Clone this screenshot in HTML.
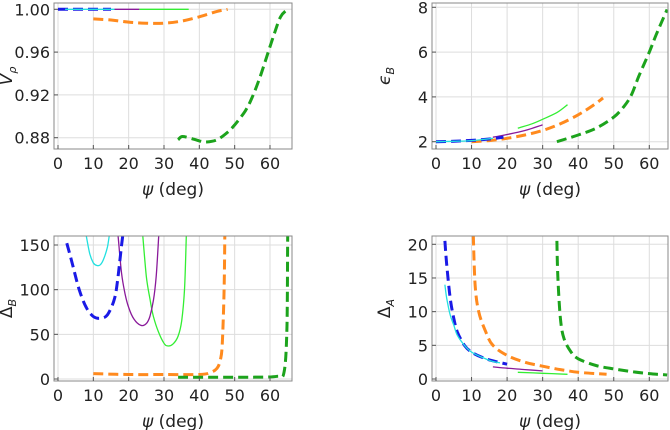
<!DOCTYPE html>
<html><head><meta charset="utf-8"><style>
body{margin:0;background:#fff}
svg{display:block;font-family:"DejaVu Sans","Liberation Sans",sans-serif}
</style></head><body>
<svg id="c" width="670" height="430"></svg>
<script>
// ---- data ----
const vpBlue=[[0,1.0],[15,1.0]];
const vpCyan=[[2,1.0],[16,1.0]];
const vpPurple=[[16,1.0],[23,1.0]];
const vpGreen=[[23,1.0],[37,1.0]];
const vpOrange=[[10,0.991],[15,0.990],[20,0.988],[25,0.987],[30,0.987],[35,0.989],[40,0.993],[45,0.998],[48,1.0]];
const vpGreenD=[[34,0.878],[35,0.881],[37,0.880],[40,0.877],[42,0.876],[45,0.878],[48,0.885],[50,0.892],[53,0.905],[55,0.918],[57,0.935],[59,0.955],[61,0.975],[63,0.993],[65,1.0]];

const ebBlue=[[0,2.0],[5,2.02],[10,2.06],[15,2.12],[19,2.2]];
const ebCyan=[[0,2.0],[5,2.02],[10,2.05],[16,2.15]];
const ebPurple=[[16,2.2],[20,2.32],[25,2.5],[30,2.75]];
const ebGreen=[[23,2.6],[27,2.8],[30,3.0],[34,3.3],[37,3.65]];
const ebOrange=[[10,2.0],[15,2.05],[20,2.15],[25,2.3],[30,2.5],[35,2.8],[40,3.2],[44,3.6],[47,3.95]];
const ebGreenD=[[34,2.0],[40,2.3],[45,2.6],[50,3.1],[53,3.6],[55,4.1],[57,4.9],[60,6.0],[62,6.8],[65,7.9]];

const dbBlue=[[2.5,152],[4,130],[6,100],[8,80],[10,70],[12,68],[14,72],[16,90],[17,115],[18,150],[18.3,160]];
const dbCyan=[[8,160],[9,140],[10,130],[11,127],[12,128],[13,135],[14,148],[14.5,160]];
const dbPurple=[[17,160],[18,118],[19,95],[20,80],[21.5,67],[23.5,60],[25,62],[26,70],[27,88],[27.8,115],[28.5,160]];
const dbGreen=[[24,160],[25,115],[26,90],[27,70],[28.5,52],[30,40],[31,37],[32.5,39],[34,48],[35,65],[35.8,100],[36.3,160]];
const dbOrange=[[10,6],[20,5],[30,5],[40,5],[43,7],[45,12],[46,22],[46.5,40],[47,100],[47.2,160]];
const dbGreenD=[[34,2],[45,2],[55,2],[62,3],[64,8],[64.8,60],[65,160]];

const daBlue=[[2.5,20.5],[3,17],[4,12],[5,9],[6,7],[8,5],[10,4],[13,3.2],[16,2.7],[20,2.2]];
const daCyan=[[2.5,14],[3,12],[4,9.5],[5,8],[6,6.5],[8,5],[10,4],[13,3.2],[16,2.6],[18,2.4]];
const daPurple=[[16,1.8],[20,1.6],[25,1.4],[30,1.2]];
const daGreen=[[23,1.0],[30,0.85],[37,0.7]];
const daOrange=[[10.5,21.3],[11,14],[12,10],[14,7],[16,5],[20,3.5],[25,2.5],[30,1.9],[35,1.4],[40,1.0],[45,0.8],[48,0.7]];
const daGreenD=[[34,20.5],[34.3,15],[35,9],[36,6],[38,4],[40,3],[45,2],[50,1.5],[55,1.1],[60,0.8],[65,0.6]];

const xTicks=[0,10,20,30,40,50,60];
const vpTicks=[0.88,0.92,0.96,1.00];
const vpTickLabels=["0.88","0.92","0.96","1.00"];
const ebTicks=[2,4,6,8];
const dbTicks=[0,50,100,150];
const daTicks=[0,5,10,15,20];

const C={blue:"#1a1ae6",cyan:"#22e0e0",purple:"#8a1a9a",green:"#33ee33",orange:"#ff8a1e",greenD:"#1ca31c"};
const NS="http://www.w3.org/2000/svg";
const svg=document.getElementById('c');
function mk(t,a,p){const e=document.createElementNS(NS,t);for(const k in a)e.setAttribute(k,a[k]);(p||svg).appendChild(e);return e;}
function smooth(pts){
  if(pts.length<3)return pts.map((p,i)=>(i?'L':'M')+p[0].toFixed(1)+','+p[1].toFixed(1)).join('');
  let d='M'+pts[0][0].toFixed(1)+','+pts[0][1].toFixed(1);
  for(let i=0;i<pts.length-1;i++){
    const p0=pts[i-1]||pts[i],p1=pts[i],p2=pts[i+1],p3=pts[i+2]||p2;
    const c1=[p1[0]+(p2[0]-p0[0])/6,p1[1]+(p2[1]-p0[1])/6];
    const c2=[p2[0]-(p3[0]-p1[0])/6,p2[1]-(p3[1]-p1[1])/6];
    d+='C'+c1[0].toFixed(1)+','+c1[1].toFixed(1)+' '+c2[0].toFixed(1)+','+c2[1].toFixed(1)+' '+p2[0].toFixed(1)+','+p2[1].toFixed(1);
  }
  return d;
}

function panel(id,L,R,T,B,x0px,x60px,ya,yapx,yb,ybpx,ticks,tickLabels,ylabel,series){
  const g=mk('g',{});
  
  
  const sx=v=>x0px+(x60px-x0px)*v/60;
  const sy=v=>yapx+(ybpx-yapx)*(v-ya)/(yb-ya);
  const clip=mk('clipPath',{id:'cl'+id},g);mk('rect',{x:L,y:T,width:R-L,height:B-T},clip);
  xTicks.forEach(t=>{const l=mk('line',{x1:sx(t),x2:sx(t),y1:T,y2:B,stroke:'#ddd','stroke-width':1},g);
    });
  ticks.forEach(t=>{const l=mk('line',{x1:L,x2:R,y1:sy(t),y2:sy(t),stroke:'#ddd','stroke-width':1},g);
    });
  const pg=mk('g',{'clip-path':'url(#cl'+id+')'},g);
  series.forEach(s=>{
    const d=smooth(s.data.map(p=>[sx(p[0]),sy(p[1])]));
    const p=mk('path',{d:d,fill:'none',stroke:s.c,'stroke-width':s.dash?3:1.3,'stroke-dasharray':s.dash?'10,5':'none'},pg);
    
    
  });
  const fr=mk('rect',{x:L,y:T,width:R-L,height:B-T,fill:'none',stroke:'#888','stroke-width':1},g);
  
  xTicks.forEach(t=>{mk('line',{x1:sx(t),x2:sx(t),y1:B,y2:B-4,stroke:'#555'},g);
    const tx=mk('text',{x:sx(t),y:B+20,'text-anchor':'middle','font-size':16,fill:'#222'},g);tx.textContent=t;
    });
  ticks.forEach((t,i)=>{mk('line',{x1:L,x2:L+4,y1:sy(t),y2:sy(t),stroke:'#555'},g);
    const tx=mk('text',{x:L-4,y:sy(t)+6,'text-anchor':'end','font-size':16,fill:'#222'},g);tx.textContent=tickLabels?tickLabels[i]:t;
    });
  const xl=mk('text',{x:(L+R)/2,y:B+46,'text-anchor':'middle','font-size':17,fill:'#222'},g);
  xl.innerHTML='<tspan font-style="italic">ψ</tspan> (deg)';
  
  const yl=mk('text',{transform:'translate('+(L-42)+','+((T+B)/2)+') rotate(-90)','text-anchor':'middle','font-size':17,fill:'#222'},g);
  yl.innerHTML=ylabel;
  
}
panel('vp',54,292,3,149,58,270,1.0,9.3,0.88,137.7,vpTicks,vpTickLabels,'<tspan font-style="italic">V</tspan><tspan font-style="italic" font-size="11" dy="4">ρ</tspan>',[
 {n:'vp-orange',c:C.orange,dash:1,data:vpOrange},{n:'vp-green-dashed',c:C.greenD,dash:1,data:vpGreenD},
 {n:'vp-green',c:C.green,data:vpGreen},{n:'vp-purple',c:C.purple,data:vpPurple},
 {n:'vp-blue',c:C.blue,dash:1,data:vpBlue},{n:'vp-cyan',c:C.cyan,data:vpCyan}]);
panel('eb',432,668,3,149,436,649.3,8,7.3,2,141.7,ebTicks,null,'<tspan font-style="italic">ϵ</tspan><tspan font-style="italic" font-size="11" dy="4">B</tspan>',[
 {n:'eb-orange',c:C.orange,dash:1,data:ebOrange},{n:'eb-green-dashed',c:C.greenD,dash:1,data:ebGreenD},
 {n:'eb-green',c:C.green,data:ebGreen},{n:'eb-purple',c:C.purple,data:ebPurple},
 {n:'eb-blue',c:C.blue,dash:1,data:ebBlue},{n:'eb-cyan',c:C.cyan,data:ebCyan}]);
panel('db',54,292,236,381,58,270,150,245,0,379,dbTicks,null,'Δ<tspan font-style="italic" font-size="11" dy="4">B</tspan>',[
 {n:'db-orange',c:C.orange,dash:1,data:dbOrange},{n:'db-green-dashed',c:C.greenD,dash:1,data:dbGreenD},
 {n:'db-green',c:C.green,data:dbGreen},{n:'db-purple',c:C.purple,data:dbPurple},
 {n:'db-blue',c:C.blue,dash:1,data:dbBlue},{n:'db-cyan',c:C.cyan,data:dbCyan}]);
panel('da',432,668,236,381,436,649.3,20,244.3,0,379,daTicks,null,'Δ<tspan font-style="italic" font-size="11" dy="4">A</tspan>',[
 {n:'da-orange',c:C.orange,dash:1,data:daOrange},{n:'da-green-dashed',c:C.greenD,dash:1,data:daGreenD},
 {n:'da-green',c:C.green,data:daGreen},{n:'da-purple',c:C.purple,data:daPurple},
 {n:'da-blue',c:C.blue,dash:1,data:daBlue},{n:'da-cyan',c:C.cyan,data:daCyan}]);
</script>
</body></html>
